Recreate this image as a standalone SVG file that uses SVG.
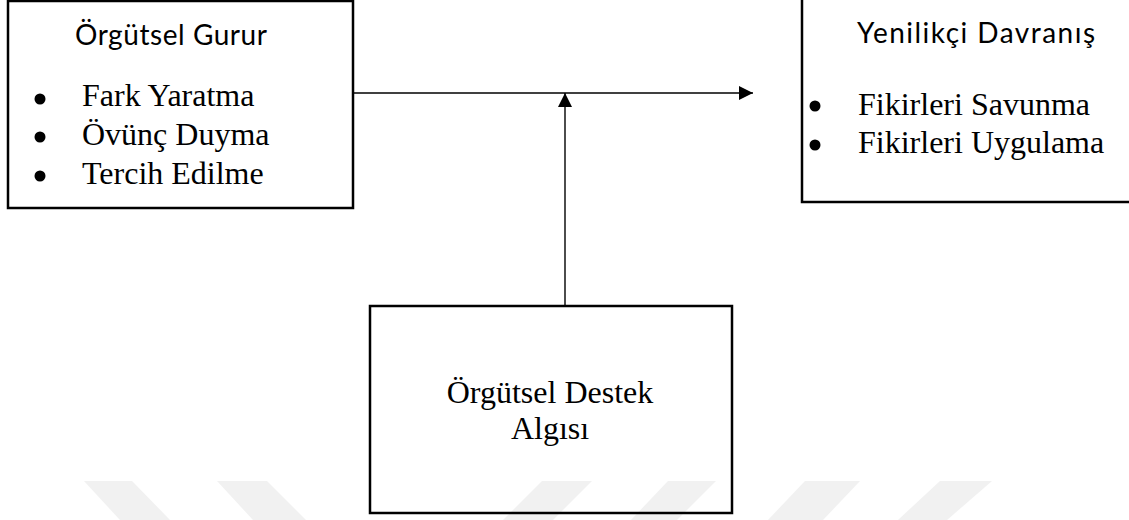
<svg xmlns="http://www.w3.org/2000/svg" width="1129" height="520" viewBox="0 0 1129 520">
<style>
.box{fill:none;stroke:#000;stroke-width:2.5}
.sans{font-family:Lato,"Liberation Sans",sans-serif;font-size:28px;fill:#000}
.serif{font-family:"Liberation Serif","Times New Roman",serif;font-size:32px;fill:#000}
.ctr{text-anchor:middle}
.wm{fill:#f1f1f1}
.conn{stroke:#000;stroke-width:1.4;fill:none}
.bullet{fill:#000}
</style>
<defs>
<marker id="arr" markerWidth="14" markerHeight="14" refX="14" refY="7" orient="auto" markerUnits="userSpaceOnUse">
<path d="M0,0 L14,7 L0,14 Z" fill="#000"/>
</marker>
</defs>
<rect width="1129" height="520" fill="#fff"/>
<g id="watermark">
<polygon class="wm" points="84,481 132,481 170,520 120,520"/>
<polygon class="wm" points="217,481 267,481 306,520 253,520"/>
<polygon class="wm" points="542,481 592,481 553,520 503,520"/>
<polygon class="wm" points="668,481 716,481 677,520 631,520"/>
<polygon class="wm" points="805,481 860,481 823,520 768,520"/>
<polygon class="wm" points="940,481 992,481 947,520 898,520"/>
</g>
<g id="connectors">
<line class="conn" x1="353" y1="93" x2="753" y2="93" marker-end="url(#arr)"/>
<line class="conn" x1="565" y1="306" x2="565" y2="93" marker-end="url(#arr)"/>
</g>
<g id="node-orgutsel-gurur">
<rect class="box" x="8" y="1" width="345" height="207"/>
<text class="sans" x="75" y="45" textLength="192">Örgütsel Gurur</text>
<circle class="bullet" cx="40" cy="99" r="5.5"/>
<circle class="bullet" cx="40" cy="137" r="5.5"/>
<circle class="bullet" cx="40" cy="176" r="5.5"/>
<text class="serif" x="82" y="106">Fark Yaratma</text>
<text class="serif" x="82" y="145">Övünç Duyma</text>
<text class="serif" x="82" y="184">Tercih Edilme</text>
</g>
<g id="node-yenilikci-davranis">
<rect class="box" x="802" y="-5" width="340" height="207"/>
<text class="sans" x="857" y="43" textLength="238">Yenilikçi Davranış</text>
<circle class="bullet" cx="815" cy="106" r="5.5"/>
<circle class="bullet" cx="815" cy="145" r="5.5"/>
<text class="serif" x="858" y="115">Fikirleri Savunma</text>
<text class="serif" x="858" y="153">Fikirleri Uygulama</text>
</g>
<g id="node-orgutsel-destek">
<rect class="box" x="370" y="306" width="362" height="207"/>
<text class="serif ctr" x="550" y="403">Örgütsel Destek</text>
<text class="serif ctr" x="550" y="439">Algısı</text>
</g>
</svg>
